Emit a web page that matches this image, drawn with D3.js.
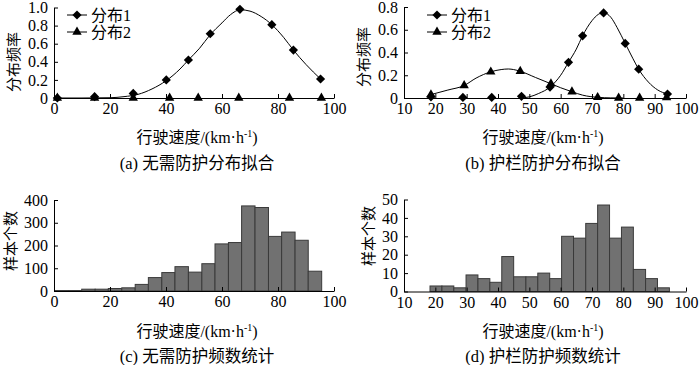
<!DOCTYPE html>
<html>
<head>
<meta charset="utf-8">
<script src="https://cdn.jsdelivr.net/npm/d3@7"></script>
<style>
  body { margin: 0; background: #fff; }
  svg text { font-family: "Liberation Serif", "Noto Sans CJK SC", serif; fill: #000; }
</style>
</head>
<body>
<div id="chart"></div>
<script>
// (a) no protection - fit markers
const aDiamondX = [1.2, 14.5, 28.3, 40.1, 48.0, 55.8, 66.4, 77.8, 85.5, 95.2]
const aDiamondY = [0, 0.015, 0.05, 0.2, 0.42, 0.71, 0.98, 0.81, 0.53, 0.21]
const aTriangleX = [1.2, 14.5, 28.3, 41.3, 51.5, 66.0, 84.1, 95.5]
const aTriangleY = [0, 0, 0, 0, 0, 0, 0, 0]
const aCurve1X = [0, 10, 20, 25, 30, 35, 40, 45, 48, 52, 55.8, 60, 63, 66.5, 70, 74, 77.8, 82, 85.5, 90, 95.2]
const aCurve1Y = [0, 0, 0.003, 0.015, 0.04, 0.1, 0.19, 0.32, 0.42, 0.55, 0.7, 0.83, 0.92, 0.975, 0.96, 0.9, 0.81, 0.67, 0.53, 0.37, 0.21]

// (b) guardrail - fit markers
const bDiamondX = [18.6, 28.8, 38.0, 47.5, 56.6, 62.5, 67.0, 73.7, 80.6, 84.9, 94.1]
const bDiamondY = [0.01, 0.005, 0.005, 0.015, 0.096, 0.314, 0.547, 0.748, 0.48, 0.253, 0.035]
const bTriangleX = [18.6, 29.2, 37.7, 47.1, 56.9, 63.6, 71.8, 78.5, 85.2, 93.8]
const bTriangleY = [0.03, 0.11, 0.23, 0.235, 0.125, 0.055, 0.006, 0, 0, 0.005]
const bCurve1X = [47, 50, 53, 56.6, 60, 62.5, 65, 67, 70, 72, 73.7, 76, 78, 80.6, 83, 84.9, 88, 91, 94.1]
const bCurve1Y = [0, 0.01, 0.04, 0.096, 0.2, 0.314, 0.43, 0.547, 0.68, 0.735, 0.75, 0.71, 0.62, 0.48, 0.35, 0.253, 0.14, 0.07, 0.035]
const bCurve2X = [18.6, 24, 29.2, 33, 37.7, 41, 43.3, 45, 47.1, 52, 56.9, 60, 63.6, 67, 71.8, 76, 80]
const bCurve2Y = [0.03, 0.07, 0.11, 0.175, 0.23, 0.25, 0.255, 0.25, 0.235, 0.18, 0.125, 0.09, 0.055, 0.025, 0.006, 0.001, 0]

// (c) no protection - histogram
const cEdges = [0.4, 5.2, 9.9, 14.7, 19.4, 24.2, 29.0, 33.7, 38.5, 43.2, 48.0, 52.8, 57.5, 62.3, 67.0, 71.8, 76.6, 81.3, 86.1, 90.8, 95.6]
const cCounts = [2, 2, 8, 8, 11, 14, 29, 59, 81, 107, 83, 120, 207, 213, 374, 367, 240, 259, 223, 87]

// (d) guardrail - histogram
const dEdges = [18.3, 22.1, 25.9, 29.8, 33.6, 37.4, 41.2, 45.0, 48.9, 52.7, 56.5, 60.3, 64.1, 68.0, 71.8, 75.6, 79.4, 83.2, 87.1, 90.9, 94.7]
const dCounts = [3, 3, 2, 9, 7, 5, 19, 8, 8, 10, 7, 30, 29, 37, 47, 29, 35, 12, 7, 2]

const legendLabels = ['分布1', '分布2']
const xTitle = '行驶速度/(km·h'
const fitYTitle = '分布频率'
const histYTitle = '样本个数'
const captions = ['(a) 无需防护分布拟合', '(b) 护栏防护分布拟合', '(c) 无需防护频数统计', '(d) 护栏防护频数统计']

const svg = d3
  .select('#chart')
  .append('svg')
  .attr('width', 700)
  .attr('height', 365)

const diamond = d3.symbol().type(d3.symbolDiamond2).size(54)
const triangle = d3.symbol().type(d3.symbolTriangle).size(38)

function drawAxes(g, x, y, xTicks, yTicks, yFormat) {
  const xAxis = g
    .append('g')
    .attr('transform', `translate(0,${y.range()[0]})`)
    .call(d3.axisBottom(x).tickValues(xTicks).tickSize(-4).tickSizeOuter(0).tickPadding(5))
  const yAxis = g
    .append('g')
    .attr('transform', `translate(${x.range()[0]},0)`)
    .call(d3.axisLeft(y).tickValues(yTicks).tickSize(-4).tickSizeOuter(0).tickPadding(6).tickFormat(yFormat))
  ;[xAxis, yAxis].forEach((a) => {
    a.attr('font-family', null).attr('font-size', null)
    a.selectAll('text').style('font-size', '16px')
    a.selectAll('line, path').attr('stroke', '#000').attr('stroke-width', 1)
  })
}

function drawTitles(g, cx, titleY, capY, ytx, yty, yTitle, caption) {
  const t = g
    .append('text')
    .attr('x', cx)
    .attr('y', titleY)
    .attr('text-anchor', 'middle')
    .style('font-size', '16px')
  t.append('tspan').text(xTitle)
  t.append('tspan').text('-1').attr('dy', -6).style('font-size', '10px')
  t.append('tspan').text(')').attr('dy', 6)

  g.append('text')
    .attr('x', cx)
    .attr('y', capY)
    .attr('text-anchor', 'middle')
    .style('font-size', '16.5px')
    .text(caption)

  g.append('text')
    .attr('transform', `translate(${ytx},${yty}) rotate(-90)`)
    .attr('text-anchor', 'middle')
    .style('font-size', '15px')
    .text(yTitle)
}

function drawFit(opts) {
  const g = svg.append('g')
  const x = d3.scaleLinear().domain(opts.xDomain).range(opts.xRange)
  const y = d3.scaleLinear().domain(opts.yDomain).range(opts.yRange)

  drawAxes(g, x, y, opts.xTicks, opts.yTicks, (d) => (d === 0 ? '0' : d3.format('.1f')(d)))

  const line = d3
    .line()
    .x((d) => x(d[0]))
    .y((d) => y(d[1]))
    .curve(d3.curveMonotoneX)

  opts.curves.forEach((c) => {
    g.append('path')
      .datum(d3.zip(c[0], c[1]))
      .attr('d', line)
      .attr('fill', 'none')
      .attr('stroke', '#000')
      .attr('stroke-width', 1)
  })

  const markers = [
    { xs: opts.triX, ys: opts.triY, sym: triangle },
    { xs: opts.diaX, ys: opts.diaY, sym: diamond },
  ]
  markers.forEach((m) => {
    g.selectAll(null)
      .data(d3.zip(m.xs, m.ys))
      .join('path')
      .attr('d', m.sym)
      .attr('transform', (d) => `translate(${x(d[0])},${y(d[1])})`)
      .attr('fill', '#000')
  })

  // legend
  const syms = [diamond, triangle]
  legendLabels.forEach((label, i) => {
    const ly = opts.legendY + i * 17
    const lg = g.append('g').attr('transform', `translate(${opts.legendX},${ly})`)
    lg.append('line').attr('x1', 0).attr('x2', 20).attr('stroke', '#000')
    lg.append('path').attr('d', syms[i]).attr('transform', 'translate(10,0)')
    lg.append('text')
      .attr('x', 24)
      .attr('dy', '0.38em')
      .style('font-size', '16px')
      .text(label)
  })

  drawTitles(g, opts.titleX, 143, 169, opts.ytx, opts.yty, fitYTitle, opts.caption)
}

function drawHist(opts) {
  const g = svg.append('g')
  const x = d3.scaleLinear().domain(opts.xDomain).range(opts.xRange)
  const y = d3.scaleLinear().domain(opts.yDomain).range(opts.yRange)

  const bins = opts.counts.map((c, i) => ({ x0: opts.edges[i], x1: opts.edges[i + 1], n: c }))
  g.selectAll('rect')
    .data(bins)
    .join('rect')
    .attr('x', (d) => x(d.x0))
    .attr('y', (d) => y(d.n))
    .attr('width', (d) => x(d.x1) - x(d.x0))
    .attr('height', (d) => y(0) - y(d.n))
    .attr('fill', '#717171')
    .attr('stroke', '#3a3a3a')
    .attr('stroke-width', 1)

  drawAxes(g, x, y, opts.xTicks, opts.yTicks, d3.format('d'))
  drawTitles(g, opts.titleX, 337, 362, opts.ytx, opts.yty, histYTitle, opts.caption)
}

drawFit({
  xDomain: [0, 100], xRange: [54, 334],
  yDomain: [0, 1], yRange: [98, 7.5],
  xTicks: d3.range(0, 101, 20), yTicks: [0, 0.2, 0.4, 0.6, 0.8, 1.0],
  curves: [[aCurve1X, aCurve1Y]],
  diaX: aDiamondX, diaY: aDiamondY, triX: aTriangleX, triY: aTriangleY,
  legendX: 67, legendY: 15,
  titleX: 197, ytx: 19, yty: 62, caption: captions[0],
})

drawFit({
  xDomain: [10, 100], xRange: [404, 686],
  yDomain: [0, 0.8], yRange: [98, 7],
  xTicks: d3.range(10, 101, 10), yTicks: [0, 0.2, 0.4, 0.6, 0.8],
  curves: [[bCurve1X, bCurve1Y], [bCurve2X, bCurve2Y]],
  diaX: bDiamondX, diaY: bDiamondY, triX: bTriangleX, triY: bTriangleY,
  legendX: 427, legendY: 15,
  titleX: 543, ytx: 369, yty: 57, caption: captions[1],
})

drawHist({
  xDomain: [0, 100], xRange: [54, 334],
  yDomain: [0, 400], yRange: [291, 200],
  xTicks: d3.range(0, 101, 20), yTicks: d3.range(0, 401, 100),
  edges: cEdges, counts: cCounts,
  titleX: 197, ytx: 16, yty: 241, caption: captions[2],
})

drawHist({
  xDomain: [10, 100], xRange: [404, 686],
  yDomain: [0, 50], yRange: [291.5, 199.5],
  xTicks: d3.range(10, 101, 10), yTicks: d3.range(0, 51, 10),
  edges: dEdges, counts: dCounts,
  titleX: 543, ytx: 374, yty: 236, caption: captions[3],
})
</script>
</body>
</html>
